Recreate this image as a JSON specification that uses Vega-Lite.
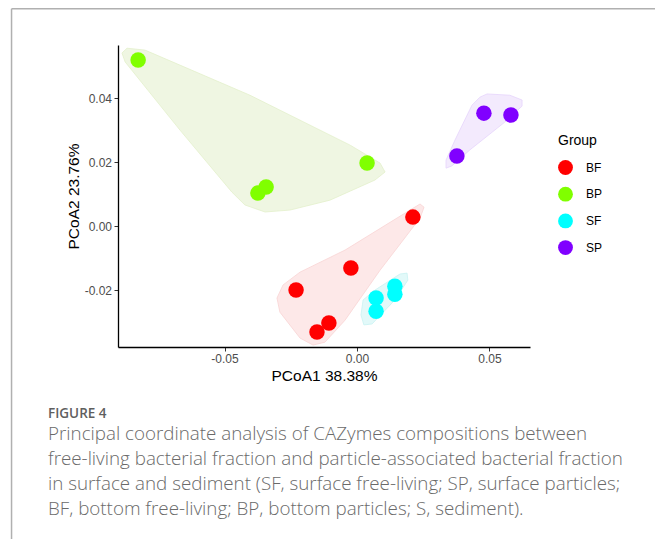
{
  "$schema": "https://vega.github.io/schema/vega-lite/v6.json",
  "width": 412,
  "height": 302,
  "autosize": {"type": "none"},
  "padding": {"left": 118, "top": 45, "right": 125, "bottom": 192},
  "background": "white",
  "config": {
    "view": {"stroke": null},
    "font": "Liberation Sans"
  },
  "title": {
    "text": "FIGURE 4",
    "subtitle": [
      "Principal coordinate analysis of CAZymes compositions between",
      "free-living bacterial fraction and particle-associated bacterial fraction",
      "in surface and sediment (SF, surface free-living; SP, surface particles;",
      "BF, bottom free-living; BP, bottom particles; S, sediment)."
    ],
    "orient": "bottom",
    "anchor": "start",
    "frame": "group",
    "dx": -70,
    "offset": -133,
    "font": "Open Sans",
    "fontSize": 13.5,
    "fontWeight": 600,
    "color": "#5f5f5f",
    "subtitleFont": "Open Sans",
    "subtitleFontSize": 18.8,
    "subtitleFontWeight": 300,
    "subtitleColor": "#6a6a6a",
    "subtitleLineHeight": 25,
    "subtitlePadding": 5
  },
  "datasets": {
    "pts": [
      {"group": "BP", "x": -0.0826, "y": 0.0519},
      {"group": "BP", "x": -0.0374, "y": 0.0103},
      {"group": "BP", "x": -0.0343, "y": 0.0122},
      {"group": "BP", "x": 0.0038, "y": 0.0197},
      {"group": "BF", "x": 0.0211, "y": 0.0028},
      {"group": "BF", "x": -0.0023, "y": -0.0131},
      {"group": "BF", "x": -0.0230, "y": -0.0200},
      {"group": "BF", "x": -0.0106, "y": -0.0303},
      {"group": "BF", "x": -0.0151, "y": -0.0331},
      {"group": "SF", "x": 0.0143, "y": -0.0188},
      {"group": "SF", "x": 0.0143, "y": -0.0213},
      {"group": "SF", "x": 0.0072, "y": -0.0225},
      {"group": "SF", "x": 0.0072, "y": -0.0266},
      {"group": "SP", "x": 0.0377, "y": 0.0219},
      {"group": "SP", "x": 0.0479, "y": 0.0353},
      {"group": "SP", "x": 0.0581, "y": 0.0347}
    ],
    "hullBP": [
      {"i": 1, "x": -0.0887, "y": 0.0541},
      {"i": 2, "x": -0.0868, "y": 0.0556},
      {"i": 3, "x": -0.0800, "y": 0.0550},
      {"i": 4, "x": -0.0404, "y": 0.0409},
      {"i": 5, "x": -0.0026, "y": 0.0253},
      {"i": 6, "x": 0.0087, "y": 0.0197},
      {"i": 7, "x": 0.0106, "y": 0.0169},
      {"i": 8, "x": 0.0068, "y": 0.0144},
      {"i": 9, "x": -0.0102, "y": 0.0081},
      {"i": 10, "x": -0.0253, "y": 0.0050},
      {"i": 11, "x": -0.0347, "y": 0.0044},
      {"i": 12, "x": -0.0423, "y": 0.0066},
      {"i": 13, "x": -0.0472, "y": 0.0106},
      {"i": 14, "x": -0.0668, "y": 0.0300},
      {"i": 15, "x": -0.0875, "y": 0.0513}
    ],
    "hullSP": [
      {"i": 1, "x": 0.0491, "y": 0.0413},
      {"i": 2, "x": 0.0577, "y": 0.0409},
      {"i": 3, "x": 0.0623, "y": 0.0394},
      {"i": 4, "x": 0.0623, "y": 0.0375},
      {"i": 5, "x": 0.0558, "y": 0.0325},
      {"i": 6, "x": 0.0426, "y": 0.0238},
      {"i": 7, "x": 0.0358, "y": 0.0188},
      {"i": 8, "x": 0.0336, "y": 0.0181},
      {"i": 9, "x": 0.0336, "y": 0.0206},
      {"i": 10, "x": 0.0370, "y": 0.0269},
      {"i": 11, "x": 0.0434, "y": 0.0378},
      {"i": 12, "x": 0.0464, "y": 0.0403}
    ],
    "hullBF": [
      {"i": 1, "x": -0.0302, "y": -0.0225},
      {"i": 2, "x": -0.0279, "y": -0.0184},
      {"i": 3, "x": -0.0215, "y": -0.0144},
      {"i": 4, "x": -0.0045, "y": -0.0075},
      {"i": 5, "x": 0.0200, "y": 0.0050},
      {"i": 6, "x": 0.0238, "y": 0.0069},
      {"i": 7, "x": 0.0253, "y": 0.0059},
      {"i": 8, "x": 0.0238, "y": 0.0025},
      {"i": 9, "x": 0.0087, "y": -0.0138},
      {"i": 10, "x": -0.0045, "y": -0.0294},
      {"i": 11, "x": -0.0121, "y": -0.0363},
      {"i": 12, "x": -0.0166, "y": -0.0372},
      {"i": 13, "x": -0.0215, "y": -0.0350},
      {"i": 14, "x": -0.0291, "y": -0.0269}
    ],
    "hullSF": [
      {"i": 1, "x": 0.0162, "y": -0.0150},
      {"i": 2, "x": 0.0189, "y": -0.0147},
      {"i": 3, "x": 0.0192, "y": -0.0169},
      {"i": 4, "x": 0.0143, "y": -0.0231},
      {"i": 5, "x": 0.0057, "y": -0.0306},
      {"i": 6, "x": 0.0026, "y": -0.0309},
      {"i": 7, "x": 0.0015, "y": -0.0278},
      {"i": 8, "x": 0.0023, "y": -0.0231},
      {"i": 9, "x": 0.0068, "y": -0.0200}
    ],
    "one": [{"k": 1}]
  },
  "layer": [
    {
      "data": {"name": "hullBP"},
      "mark": {"type": "line", "interpolate": "linear-closed", "strokeWidth": 0.8, "fill": "#EFF6E2", "stroke": "#E3F0CC"},
      "encoding": {
        "x": {"field": "x", "type": "quantitative", "scale": {"domain": [-0.0902, 0.0653], "nice": false, "zero": false},
              "axis": {"values": [-0.05, 0, 0.05], "format": ".2f", "labelExpr": "replace(datum.label, '\u2212', '-')", "title": "PCoA1 38.38%", "grid": false,
                       "domainColor": "black", "domainWidth": 1.3, "tickColor": "#333", "tickSize": 4, "tickWidth": 1,
                       "labelColor": "#4d4d4d", "labelFontSize": 12, "labelPadding": 2,
                       "titleColor": "black", "titleFontSize": 15.5, "titleFontWeight": "normal", "titlePadding": 4}},
        "y": {"field": "y", "type": "quantitative", "scale": {"domain": [-0.0378, 0.0566], "nice": false, "zero": false},
              "axis": {"values": [-0.02, 0, 0.02, 0.04], "format": ".2f", "labelExpr": "replace(datum.label, '\u2212', '-')", "title": "PCoA2 23.76%", "grid": false,
                       "domainColor": "black", "domainWidth": 1.3, "tickColor": "#333", "tickSize": 4, "tickWidth": 1,
                       "labelColor": "#4d4d4d", "labelFontSize": 12, "labelPadding": 2.5,
                       "titleColor": "black", "titleFontSize": 15.5, "titleFontWeight": "normal", "titlePadding": 3}},
        "order": {"field": "i", "type": "quantitative"}
      }
    },
    {
      "data": {"name": "hullSP"},
      "mark": {"type": "line", "interpolate": "linear-closed", "strokeWidth": 0.8, "fill": "#F3EAFD", "stroke": "#E6D4FB"},
      "encoding": {
        "x": {"field": "x", "type": "quantitative"},
        "y": {"field": "y", "type": "quantitative"},
        "order": {"field": "i", "type": "quantitative"}
      }
    },
    {
      "data": {"name": "hullBF"},
      "mark": {"type": "line", "interpolate": "linear-closed", "strokeWidth": 0.8, "fill": "#FDE8E8", "stroke": "#F9D4D4"},
      "encoding": {
        "x": {"field": "x", "type": "quantitative"},
        "y": {"field": "y", "type": "quantitative"},
        "order": {"field": "i", "type": "quantitative"}
      }
    },
    {
      "data": {"name": "hullSF"},
      "mark": {"type": "line", "interpolate": "linear-closed", "strokeWidth": 0.8, "fill": "#E2F9F9", "stroke": "#C9F3F3"},
      "encoding": {
        "x": {"field": "x", "type": "quantitative"},
        "y": {"field": "y", "type": "quantitative"},
        "order": {"field": "i", "type": "quantitative"}
      }
    },
    {
      "mark": {"type": "rule", "strokeDash": [5, 4], "color": "#222", "strokeWidth": 1.1},
      "encoding": {"x": {"datum": 0}}
    },
    {
      "mark": {"type": "rule", "strokeDash": [5, 4], "color": "#222", "strokeWidth": 1.1},
      "encoding": {"y": {"datum": 0}}
    },
    {
      "data": {"name": "pts"},
      "mark": {"type": "circle", "opacity": 1, "size": 240},
      "encoding": {
        "x": {"field": "x", "type": "quantitative"},
        "y": {"field": "y", "type": "quantitative"},
        "color": {"field": "group", "type": "nominal",
                  "scale": {"domain": ["BF", "BP", "SF", "SP"], "range": ["#FF0000", "#80FF00", "#00FFFF", "#8000FF"]},
                  "legend": {"title": "Group", "orient": "none", "legendX": 440, "legendY": 89,
                             "titleFontSize": 14, "titleFontWeight": "normal", "titleColor": "black", "titlePadding": 12,
                             "labelFontSize": 12, "labelColor": "black", "labelOffset": 13,
                             "symbolSize": 220, "symbolType": "circle", "symbolOpacity": 1, "symbolStrokeWidth": 0,
                             "rowPadding": 11.7}}
      }
    },
    {
      "data": {"name": "one"},
      "mark": {"type": "rule", "color": "#b0b0b0", "strokeWidth": 1.5, "clip": false},
      "encoding": {"y": {"datum": 0.06797}, "x": {"datum": -0.13038}, "x2": {"datum": 0.1125}}
    },
    {
      "data": {"name": "one"},
      "mark": {"type": "rule", "color": "#b0b0b0", "strokeWidth": 1.5, "clip": false},
      "encoding": {"x": {"datum": -0.13038}, "y": {"datum": 0.06797}, "y2": {"datum": -0.0978}}
    }
  ]
}
